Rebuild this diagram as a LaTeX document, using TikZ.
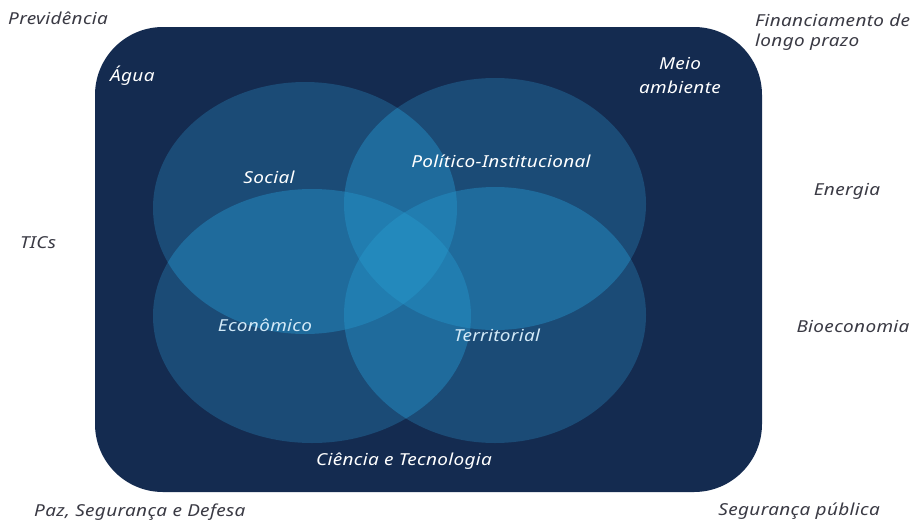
\documentclass[tikz,border=0pt]{standalone}
\usepackage{fontspec}
\setmainfont{Noto Sans}[FakeStretch=1.15,LetterSpace=2]
\definecolor{bgnavy}{HTML}{142B50}
\definecolor{lone}{HTML}{1B4B76}
\definecolor{ltwo}{HTML}{1F6B9C}
\definecolor{lthree}{HTML}{217DB0}
\definecolor{lfour}{HTML}{2389BC}
\definecolor{outtxt}{HTML}{3A3A44}
\definecolor{paletxt}{HTML}{D2E9F7}
\def\ellS{(305,208) ellipse [x radius=152, y radius=126]}
\def\ellP{(495,204) ellipse [x radius=151, y radius=126]}
\def\ellE{(312,316) ellipse [x radius=159, y radius=127]}
\def\ellT{(495,315) ellipse [x radius=151, y radius=128]}
\begin{document}
\begin{tikzpicture}[x=1pt,y=-1pt,
  outlbl/.style={font=\itshape\fontsize{16.5}{19}\selectfont, text=outtxt, inner sep=0pt},
  inlbl/.style={font=\itshape\fontsize{16.5}{19}\selectfont, text=white, inner sep=0pt},
  palelbl/.style={font=\itshape\fontsize{16.5}{19}\selectfont, text=paletxt, inner sep=0pt}]
\useasboundingbox (0,0) rectangle (915,525);
\fill[white] (0,0) rectangle (915,525);
\fill[bgnavy, rounded corners=68pt] (95,27) rectangle (762,492);
% single layer
\fill[lone] \ellS; \fill[lone] \ellP; \fill[lone] \ellE; \fill[lone] \ellT;
% pairs
\begin{scope}\clip \ellS; \fill[ltwo] \ellP; \fill[ltwo] \ellE; \fill[ltwo] \ellT; \end{scope}
\begin{scope}\clip \ellP; \fill[ltwo] \ellE; \fill[ltwo] \ellT; \end{scope}
\begin{scope}\clip \ellE; \fill[ltwo] \ellT; \end{scope}
% triples
\begin{scope}\clip \ellS; \clip \ellP; \fill[lthree] \ellE; \fill[lthree] \ellT; \end{scope}
\begin{scope}\clip \ellS; \clip \ellE; \fill[lthree] \ellT; \end{scope}
\begin{scope}\clip \ellP; \clip \ellE; \fill[lthree] \ellT; \end{scope}
% quad
\begin{scope}\clip \ellS; \clip \ellP; \clip \ellE; \fill[lfour] \ellT; \end{scope}
% labels outside
\node[outlbl, anchor=west] (prev) at (8,18) {Previdência};
\node[outlbl, anchor=west] (fin1) at (755,20) {Financiamento de};
\node[outlbl, anchor=west] (fin2) at (755,42) {longo prazo};
\node[outlbl] (ener) at (847,191) {Energia};
\node[outlbl] (tics) at (38,243) {TICs};
\node[outlbl] (bioe) at (853,327) {Bioeconomia};
\node[outlbl, anchor=west] (paz) at (34,512) {Paz, Segurança e Defesa};
\node[outlbl, anchor=east] (segp) at (880,511) {Segurança pública};
% labels inside
\node[inlbl, anchor=west] (agua) at (110,76) {Água};
\node[inlbl] (meio) at (680,64) {Meio};
\node[inlbl] (amb) at (680,87) {ambiente};
\node[inlbl] (soc) at (269,177) {Social};
\node[inlbl] (pol) at (501,161) {Político-Institucional};
\node[palelbl] (eco) at (265,325) {Econômico};
\node[palelbl] (terr) at (497,335) {Territorial};
\node[inlbl] (cien) at (404,461) {Ciência e Tecnologia};
\end{tikzpicture}
\end{document}
